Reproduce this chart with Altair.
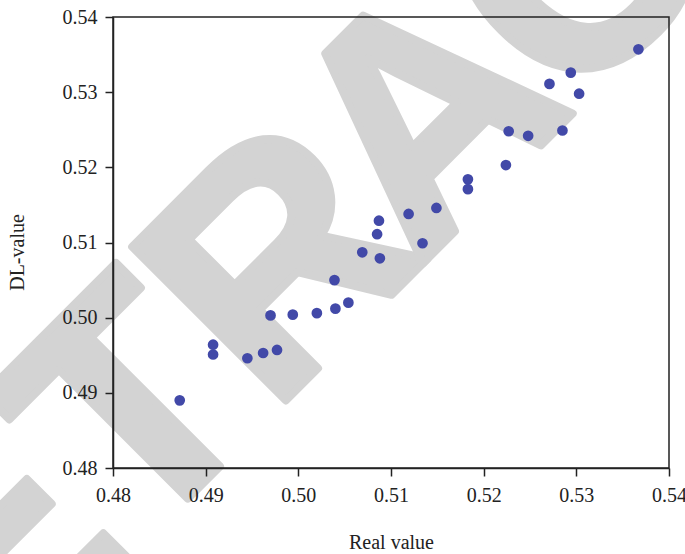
import altair as alt
import pandas as pd

# ---- data ----
real_value = [0.4872, 0.4908, 0.4908, 0.4945, 0.4962, 0.4977, 0.4970, 0.4994,
              0.5020, 0.5040, 0.5054, 0.5039, 0.5069, 0.5088, 0.5085, 0.5087,
              0.5119, 0.5134, 0.5149, 0.5183, 0.5183, 0.5224, 0.5227, 0.5248,
              0.5285, 0.5271, 0.5294, 0.5303, 0.5367]
dl_value = [0.4890, 0.4964, 0.4951, 0.4946, 0.4953, 0.4957, 0.5003, 0.5004,
            0.5006, 0.5012, 0.5020, 0.5050, 0.5087, 0.5079, 0.5111, 0.5129,
            0.5138, 0.5099, 0.5146, 0.5184, 0.5171, 0.5203, 0.5248, 0.5242,
            0.5249, 0.5311, 0.5326, 0.5298, 0.5357]
x_ticks = [0.48, 0.49, 0.50, 0.51, 0.52, 0.53, 0.54]
y_ticks = [0.48, 0.49, 0.50, 0.51, 0.52, 0.53, 0.54]

# watermark letters (decoration)
wm_letters = ["E", "T", "R", "A", "C"]

W, H = 556, 451
SERIF = "Liberation Serif"
INK = "#222222"
WM = "#d3d3d3"

df = pd.DataFrame({"real": real_value, "dl": dl_value})

# watermark placement along a -45 degree baseline (page -> plot coords)
wm_pos = [(-50.6, 606.9), (90.9, 465.5), (238.6, 317.7), (385.0, 171.3), (537.0, 19.3)]
wm_layers = []
for ch, (px, py) in zip(wm_letters, wm_pos):
    wm_layers.append(
        alt.Chart(pd.DataFrame({"t": [ch]}))
        .mark_text(font="Liberation Sans", fontWeight="bold", fontSize=316,
                   angle=315, align="center", baseline="alphabetic",
                   fill=WM, stroke=WM, strokeWidth=8, strokeJoin="round")
        .encode(x=alt.value(px), y=alt.value(py), text="t:N")
    )

axis_common = dict(
    grid=False, tickSize=8, tickColor=INK, tickWidth=1.5,
    domainColor=INK, domainWidth=1.5,
    labelFont=SERIF, labelFontSize=20, labelColor=INK,
    titleFont=SERIF, titleFontSize=20, titleFontWeight="normal", titleColor=INK,
    labelFlush=False, labelOverlap=False, zindex=1, format=".2f",
)

points = alt.Chart(df).mark_circle(size=115, color="#4249a8", opacity=1).encode(
    x=alt.X("real:Q",
            scale=alt.Scale(domain=[0.48, 0.54], nice=False, zero=False),
            axis=alt.Axis(values=x_ticks, title="Real value", labelPadding=9,
                          titleX=W / 2, titleY=80, titleBaseline="alphabetic",
                          titleAlign="center", **axis_common)),
    y=alt.Y("dl:Q",
            scale=alt.Scale(domain=[0.48, 0.54], nice=False, zero=False),
            axis=alt.Axis(values=y_ticks, title="DL-value", labelPadding=8,
                          titleX=-90, titleY=235, titleAngle=270,
                          titleBaseline="alphabetic", titleAlign="center",
                          **axis_common)),
)

frame = alt.Chart(pd.DataFrame({"a": [0]})).mark_rect(
    fill="#ffffff", fillOpacity=0, stroke=INK, strokeWidth=1.5
).encode(x=alt.value(0), x2=alt.value(W), y=alt.value(0), y2=alt.value(H))

chart = alt.layer(*wm_layers, points, frame).properties(
    width=W, height=H,
    autosize=alt.AutoSizeParams(type="none"),
    padding={"left": 113, "top": 17, "right": 16, "bottom": 86},
    background="white",
).configure_view(stroke=None)

chart.save("out.html", embed_options={"renderer": "svg", "actions": False})
